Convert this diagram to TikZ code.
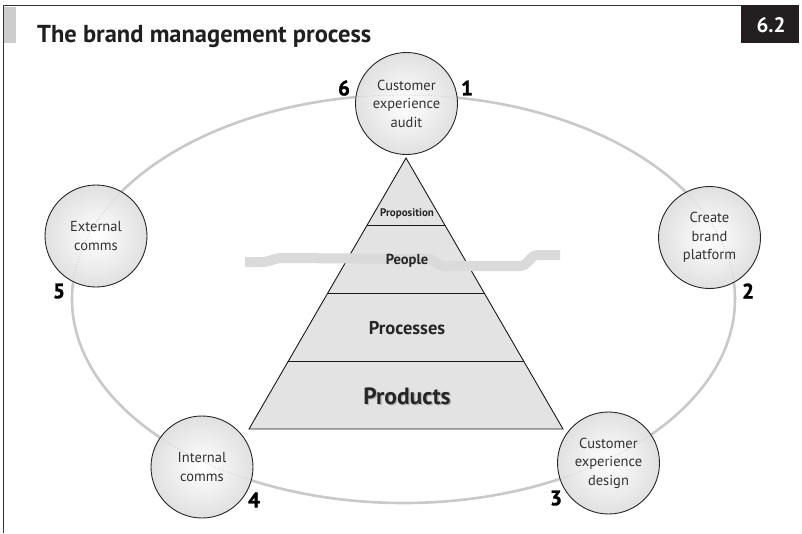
\documentclass[tikz,border=0pt]{standalone}
\usepackage{fontspec}
\setmainfont{PT Sans}
\newfontfamily\heavyfont[FakeBold=1.6]{PT Sans Bold}
\usetikzlibrary{shapes.geometric}
\definecolor{ringgrey}{HTML}{C9C9C9}
\definecolor{bandgrey}{HTML}{DADADA}
\definecolor{tagblack}{HTML}{231F20}
\definecolor{inktext}{HTML}{333333}
\tikzset{
  stage/.style={circle, draw=black!85, line width=0.9pt, minimum size=102pt,
    inner sep=0pt, align=center, shading=radial, inner color=white,
    outer color=black!12, text=inktext,
    font=\fontsize{14.5}{18.5}\selectfont},
  stepno/.style={font=\fontsize{21}{21}\heavyfont, text=black, inner sep=0pt},
  tier/.style={text=black!85, inner sep=0pt},
  tierline/.style={draw=black!90, line width=0.9pt}
}
\begin{document}
\begin{tikzpicture}[x=1pt,y=-1pt]
\useasboundingbox (0,0) rectangle (802,533);
\fill[white] (0,0) rectangle (802,533);

% frame, side tab and heading
\draw[black!80, line width=1pt] (741,5) -- (3,5) -- (3,533);
\fill[black!20] (4,7) rectangle (16,43);
\node[anchor=base west, inner sep=0pt, text=black!88,
  font=\fontsize{24.5}{27}\selectfont\bfseries] (title) at (37,42) {The brand management process};
\fill[tagblack] (741,5) rectangle (799,43);
\node[text=white, inner sep=0pt, font=\fontsize{21}{21}\selectfont\bfseries] (tag) at (771,25) {6.2};

% the cycle ring
\draw[ringgrey, line width=2.6pt] (403.5,299) ellipse [x radius=331.5, y radius=204];

% pyramid
\shade[left color=black!11, middle color=black!3, right color=black!11]
  (406,158) -- (563,429) -- (249,429) -- cycle;
\draw[tierline] (367.2,225) -- (444.8,225);
\draw[tierline] (327.8,293) -- (484.2,293);
\draw[tierline] (288.4,361) -- (523.6,361);
\draw[tierline, line join=miter] (406,158) -- (563,429) -- (249,429) -- cycle;

% grey band across the people tier
\draw[bandgrey, line width=10pt, line join=round]
  (245,262) -- (262,262) to[out=0,in=180] (282,258) -- (428,259)
  to[out=0,in=180] (444,266) -- (520,266) to[out=0,in=180] (538,255) -- (560,255);

% tier labels
\node[tier, font=\fontsize{11}{11}\selectfont\bfseries] (prop) at (407,214) {Proposition};
\node[tier, font=\fontsize{14.5}{14.5}\selectfont\bfseries] (people) at (407,261) {People};
\node[tier, font=\fontsize{18.5}{18.5}\selectfont\bfseries] (proc) at (407,328) {Processes};
\node[tier, text=black!30, font=\fontsize{23.5}{23.5}\selectfont\bfseries] at (408.3,397.3) {Products};
\node[tier, font=\fontsize{23.5}{23.5}\selectfont\bfseries] (prod) at (407,396) {Products};

% stage circles
\node[stage] (c1) at (406.5,103.5) {Customer\\experience\\audit};
\node[stage] (c2) at (709.5,237.5) {Create\\brand\\platform};
\node[stage] (c3) at (608.5,463) {Customer\\experience\\design};
\node[stage] (c4) at (202,467) {Internal\\comms};
\node[stage] (c5) at (96,236) {External\\comms};

% ring faintly visible through the circles
\begin{scope}
  \clip (406.5,103.5) circle [radius=50] (709.5,237.5) circle [radius=50]
        (608.5,463) circle [radius=50] (202,467) circle [radius=50]
        (96,236) circle [radius=50];
  \draw[black!22, dotted, line width=0.8pt] (403.5,299) ellipse [x radius=331.5, y radius=204];
\end{scope}

% step numbers
\node[stepno] (n6) at (344,88) {6};
\node[stepno] (n1) at (467,88) {1};
\node[stepno] (n2) at (748,291) {2};
\node[stepno] (n3) at (556,498) {3};
\node[stepno] (n4) at (254,500) {4};
\node[stepno] (n5) at (59,291) {5};
\end{tikzpicture}
\end{document}
